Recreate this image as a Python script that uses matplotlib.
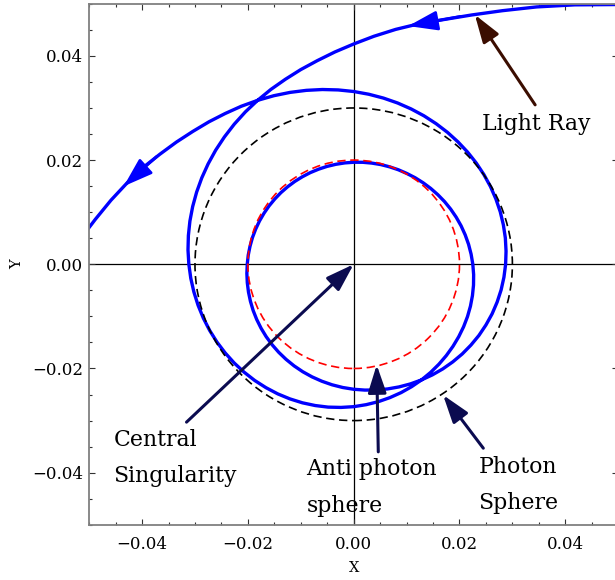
import numpy as np
import matplotlib
matplotlib.use("Agg")
from matplotlib import pyplot as plt
from matplotlib.ticker import MultipleLocator, FixedLocator

# radii of the two critical spheres
photon_sphere_r = 0.03
anti_photon_sphere_r = 0.02

# light ray in polar form: unwrapped angle (deg) and radius
ray_angle_deg = list(range(40, 921, 5))
ray_radius = [
    # incoming branch, down to closest approach
    0.07660, 0.07050, 0.06500, 0.06030, 0.05620, 0.05280, 0.05000, 0.04780, 0.04578, 0.04393,
    0.04228, 0.04090, 0.03968, 0.03868, 0.03778, 0.03703, 0.03633, 0.03570, 0.03511, 0.03456,
    0.03406, 0.03359, 0.03316, 0.03276, 0.03239, 0.03205, 0.03173, 0.03144, 0.03116, 0.03091,
    0.03067, 0.03045, 0.03024, 0.03004, 0.02985, 0.02966, 0.02948, 0.02929, 0.02911, 0.02891,
    0.02872, 0.02851, 0.02830, 0.02807, 0.02784, 0.02758, 0.02733, 0.02705, 0.02678, 0.02649,
    0.02621, 0.02592, 0.02563, 0.02534, 0.02505, 0.02477, 0.02450, 0.02424, 0.02399, 0.02374,
    0.02349, 0.02324, 0.02300, 0.02276, 0.02252, 0.02228, 0.02205, 0.02182, 0.02160, 0.02138,
    0.02117, 0.02097, 0.02077, 0.02059, 0.02042, 0.02027, 0.02012, 0.02001, 0.01990, 0.01981,
    0.01972, 0.01965, 0.01958, 0.01953, 0.01948, 0.01945, 0.01942, 0.01941, 0.01940,
    # outgoing branch
    0.01941, 0.01942, 0.01945, 0.01948, 0.01953, 0.01958, 0.01965, 0.01972,
    0.01981, 0.01990, 0.02001, 0.02012, 0.02027, 0.02042, 0.02059, 0.02077, 0.02097, 0.02117,
    0.02138, 0.02160, 0.02182, 0.02205, 0.02228, 0.02252, 0.02276, 0.02300, 0.02324, 0.02349,
    0.02374, 0.02399, 0.02424, 0.02450, 0.02477, 0.02505, 0.02534, 0.02563, 0.02592, 0.02621,
    0.02649, 0.02678, 0.02705, 0.02733, 0.02758, 0.02784, 0.02807, 0.02830, 0.02851, 0.02872,
    0.02891, 0.02911, 0.02929, 0.02948, 0.02966, 0.02985, 0.03004, 0.03024, 0.03045, 0.03067,
    0.03091, 0.03116, 0.03144, 0.03173, 0.03205, 0.03239, 0.03276, 0.03316, 0.03359, 0.03406,
    0.03456, 0.03511, 0.03570, 0.03633, 0.03703, 0.03778, 0.03868, 0.03968, 0.04090, 0.04228,
    0.04393, 0.04560, 0.04750, 0.04960, 0.05210, 0.05520, 0.05900, 0.06350, 0.06900, 0.07500,
]

major_ticks = [-0.04, -0.02, 0.0, 0.02, 0.04]
major_tick_labels = ['\u22120.04', '\u22120.02', '0.00', '0.02', '0.04']

SERIF = 'DejaVu Serif'
BLUE = '#0000ff'
NAVY = '#0b0b50'
BROWN = '#3b0d00'


def ray_xy(theta_deg):
    r = np.interp(theta_deg, ray_angle_deg, ray_radius)
    t = np.radians(theta_deg)
    return r * np.cos(t), r * np.sin(t)


fig = plt.figure(figsize=(6.15, 5.8), dpi=100)
ax = fig.add_axes([0.1450, 0.0952, 0.8602, 0.8983])
ax.set_xlim(-0.05, 0.05)
ax.set_ylim(-0.05, 0.05)

# axes through the origin
ax.axhline(0, color='black', lw=0.9, zorder=1)
ax.axvline(0, color='black', lw=0.9, zorder=1)

# light ray
theta = np.radians(ray_angle_deg)
rr = np.array(ray_radius)
ax.plot(rr * np.cos(theta), rr * np.sin(theta), color=BLUE, lw=2.4,
        solid_joinstyle='round', zorder=2)

# direction arrows on the ray
for tip_deg, tail_deg in [(77.3, 67.0), (881.0, 871.0)]:
    ax.annotate('', xy=ray_xy(tip_deg), xytext=ray_xy(tail_deg),
                arrowprops=dict(arrowstyle='-|>,head_length=0.9,head_width=0.3',
                                color=BLUE, lw=2.0, mutation_scale=20,
                                shrinkA=0, shrinkB=0),
                zorder=5)

# photon sphere and anti photon sphere
ax.add_patch(plt.Circle((0, 0), photon_sphere_r, fill=False, color='black',
                        lw=1.2, ls=(0, (5, 2.8)), zorder=3))
ax.add_patch(plt.Circle((0, 0), anti_photon_sphere_r, fill=False, color='red',
                        lw=1.2, ls=(0, (5, 2.8)), zorder=3))

# labels with pointer arrows (text y is the baseline of the last line)
notes = [
    ('Light Ray', (0.0229, 0.0479), (0.0343, 0.0306), (0.0243, 0.0258), BROWN),
    ('Central\nSingularity', (0.0, 0.0), (-0.0316, -0.0303), (-0.0454, -0.0418), NAVY),
    ('Anti photon\nsphere', (0.00435, -0.0193), (0.00465, -0.0360), (-0.0089, -0.0475), NAVY),
    ('Photon\nSphere', (0.0169, -0.0251), (0.0245, -0.0353), (0.0236, -0.0470), NAVY),
]
for text, tip, tail, pos, col in notes:
    ax.annotate('', xy=tip, xytext=tail,
                arrowprops=dict(arrowstyle='-|>,head_length=0.85,head_width=0.28',
                                color=col, lw=2.2, mutation_scale=20,
                                shrinkA=0, shrinkB=0),
                zorder=6)
    ax.text(pos[0], pos[1], text, family=SERIF, fontsize=15.8, ha='left',
            va='baseline', linespacing=1.85, color='black', zorder=6)

# frame and ticks
for sp in ax.spines.values():
    sp.set_color('#808080')
    sp.set_linewidth(1.3)
ax.xaxis.set_major_locator(FixedLocator(major_ticks))
ax.yaxis.set_major_locator(FixedLocator(major_ticks))
ax.set_xticklabels(major_tick_labels)
ax.set_yticklabels(major_tick_labels)
ax.xaxis.set_minor_locator(MultipleLocator(0.005))
ax.yaxis.set_minor_locator(MultipleLocator(0.005))
ax.tick_params(which='both', direction='in', top=True, right=True,
               color='#333333', width=0.8)
ax.tick_params(which='major', length=4.5)
ax.tick_params(which='minor', length=2.4)
ax.tick_params(axis='x', pad=8)
ax.tick_params(axis='y', pad=4.5)
for lbl in ax.get_xticklabels() + ax.get_yticklabels():
    lbl.set_family(SERIF)
    lbl.set_fontsize(12)

ax.set_xlabel('X', family=SERIF, fontsize=10.5, va='center')
ax.xaxis.set_label_coords(0.5, -0.0829)
ax.set_ylabel('Y', family=SERIF, fontsize=10.5, va='center')
ax.yaxis.set_label_coords(-0.137, 0.5)

fig.savefig('out.png', dpi=100)
